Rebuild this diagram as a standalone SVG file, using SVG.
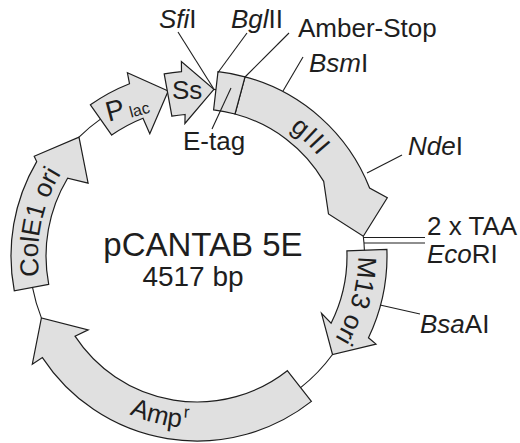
<svg xmlns="http://www.w3.org/2000/svg" width="520" height="443" viewBox="0 0 520 443">
  <style>
    .feat{fill:#e0e0e0;stroke:#1e1e1e;stroke-width:1.2;stroke-linejoin:miter}
    .ln{fill:none;stroke:#1e1e1e;stroke-width:1.1}
    text{font-family:"Liberation Sans",Arial,sans-serif;fill:#1e1e1e}
    .lbl{font-size:26px}
    .i{font-style:italic}
  </style>
  <defs>
    <!-- baselines for the curved feature names (centre 197,256) -->
    <path id="arcColE1" d="M59.3,335.5 A159,159 0 0 1 103.5,127.4"/>
    <path id="arcM13" d="M343.5,189.2 A161,161 0 0 1 288.2,388.7"/>
    <path id="arcG3" d="M206.6,99.3 A157,157 0 0 1 353.0,238.2"/>
    <path id="arcAmp" d="M59.6,359.5 A172,172 0 0 0 275.1,409.3"/>
  </defs>
  <rect width="520" height="443" fill="#fff"/>

  <!-- plasmid features -->
  <g id="plac">
    <path class="feat" d="M90.4,104.8 A185,185 0 0 1 129.5,83.7 L127.4,72.8 L168.2,91.0 L149.8,133.8 L143.0,118.2 A148,148 0 0 0 111.7,135.1 Z"/>
    <text transform="rotate(-15 125 110)"><tspan x="106" y="117" font-size="28">P</tspan><tspan font-size="16" dx="4" dy="2">lac</tspan></text>
  </g>
  <g id="ss">
    <path class="feat" d="M164.2,73.9 A185,185 0 0 1 181.5,71.6 L181.4,61.6 L213.9,89.4 L184.9,123.5 L185.1,114.5 A142,142 0 0 0 171.9,116.2 Z"/>
    <text class="lbl" x="172" y="99">Ss</text>
  </g>
  <g id="gIII">
    <path class="feat" d="M245.0,76.8 A185.5,185.5 0 0 1 369.6,188.0 L387.3,197.8 L363.3,236.2 L328.5,214.0 L323.7,181.4 A147,147 0 0 0 235.0,114.0 Z"/>
    <text class="lbl" font-size="27" letter-spacing="1"><textPath href="#arcG3" startOffset="50%" text-anchor="middle">gIII</textPath></text>
  </g>
  <g id="etag">
    <path class="feat" d="M218.0,71.7 A185.5,185.5 0 0 1 245.0,76.8 L235.0,114.0 A147,147 0 0 0 213.6,109.9 Z"/>
  </g>
  <g id="m13ori">
    <path class="feat" d="M346.9,250.8 L386.9,249.4 A190,190 0 0 1 368.5,337.8 L376.0,344.1 L332.5,354.5 L321.5,313.3 L331.1,323.2 A150,150 0 0 0 346.9,250.8 Z"/>
    <text class="lbl"><textPath href="#arcM13" startOffset="50%" text-anchor="middle">M13 ori</textPath></text>
  </g>
  <g id="ampr">
    <path class="feat" d="M287.3,370.7 L311.4,401.4 A185,185 0 0 1 42.4,357.6 L32.3,364.2 L41.4,317.9 L88.2,329.9 L75.0,336.2 A146,146 0 0 0 287.3,370.7 Z"/>
    <text class="lbl"><textPath href="#arcAmp" startOffset="50%" text-anchor="middle">Amp<tspan dx="2" dy="-10" font-size="17">r</tspan></textPath></text>
  </g>
  <g id="cole1ori">
    <path class="feat" d="M48.7,284.3 L14.3,290.9 A186,186 0 0 1 36.7,161.6 L34.2,156.2 L79.0,137.1 L88.1,183.1 L67.6,178.2 A151,151 0 0 0 48.7,284.3 Z"/>
    <text class="lbl"><textPath href="#arcColE1" startOffset="50%" text-anchor="middle">ColE1 ori</textPath></text>
  </g>

  <!-- backbone and leader lines -->
  <g id="connectors" class="ln">
    <path d="M79.0,137.1 A167.5,167.5 0 0 1 100.5,119.1"/>
    <path d="M41.4,317.9 A167.5,167.5 0 0 1 32.5,287.4"/>
    <path d="M332.5,354.5 A167.5,167.5 0 0 1 300.6,387.6"/>
    <path d="M363.3,236.2 A167.5,167.5 0 0 1 364.4,250.2"/>
    <path d="M213.9,89.4 L216.0,89.6"/>
    <path d="M178,32 L213.5,88.5"/>
    <path d="M247,33 L218,72.5"/>
    <path d="M289,33 L245,77"/>
    <path d="M303,57 L283,91"/>
    <path d="M402,155 L367,173"/>
    <path d="M364,237.5 L425,237.5"/>
    <path d="M364,243 L425,243"/>
    <path d="M420,314 L380,305"/>
    <path d="M231,88 L212,129"/>
  </g>

  <!-- site and feature labels -->
  <g id="labels" class="lbl">
    <text x="159" y="28"><tspan class="i">Sfi</tspan>I</text>
    <text x="231" y="28"><tspan class="i">Bgl</tspan>II</text>
    <text x="298" y="36.5">Amber-Stop</text>
    <text x="309" y="71.5"><tspan class="i">Bsm</tspan>I</text>
    <text x="408" y="155"><tspan class="i">Nde</tspan>I</text>
    <text x="427" y="235">2 x TAA</text>
    <text x="427" y="263"><tspan class="i">Eco</tspan>RI</text>
    <text x="420" y="333"><tspan class="i">Bsa</tspan>AI</text>
    <text x="183" y="150">E-tag</text>
  </g>
  <g id="title">
    <text x="203" y="256" font-size="33" text-anchor="middle">pCANTAB 5E</text>
    <text x="193" y="286" font-size="28" text-anchor="middle">4517 bp</text>
  </g>
</svg>
